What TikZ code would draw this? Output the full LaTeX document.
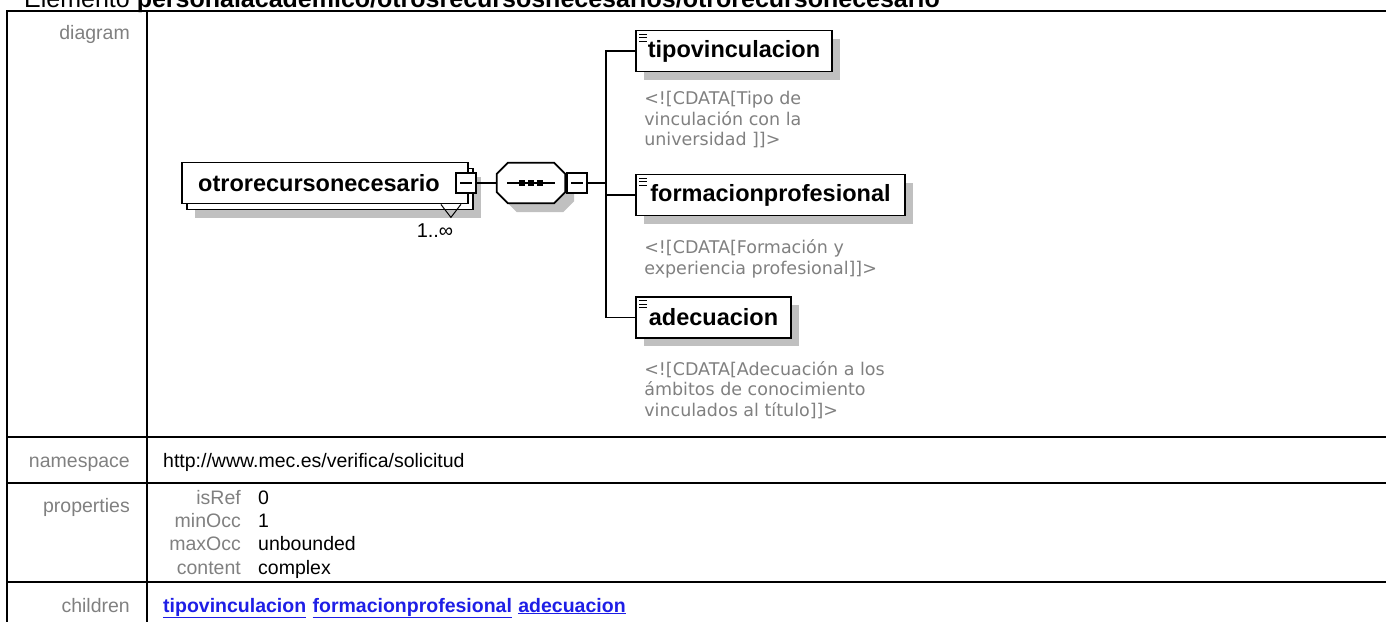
\documentclass[tikz,border=0pt]{standalone}
\usepackage{fontspec}
\setmainfont{Liberation Sans}
\newfontfamily\annfont{DejaVu Sans}
\usepackage{xcolor}
\definecolor{cLabel}{HTML}{808080}
\definecolor{cShadow}{HTML}{C0C0C0}
\definecolor{cLink}{HTML}{1E1EE6}
\usetikzlibrary{positioning,shadows,backgrounds}
\tikzset{
  tbl-line/.style={line width=2pt,draw=black},
  row-label/.style={anchor=base east,inner sep=0pt,text=cLabel,font=\fontsize{19.5}{23}\selectfont},
  row-value/.style={anchor=base west,inner sep=0pt,font=\fontsize{19.5}{23}\selectfont},
  link/.style={row-value,text=cLink,font=\fontsize{19.5}{23}\selectfont\bfseries},
  elem-box/.style={draw=black,line width=1.8pt,fill=white,minimum height=41pt,inner sep=0pt,
    font=\fontsize{23.5}{26}\selectfont\bfseries},
  elem-child/.style={elem-box,
    drop shadow={shadow xshift=8pt,shadow yshift=-8pt,fill=cShadow,opacity=1},
    path picture={\foreach \k in {0,1,2}
      \draw[line width=1pt] ([xshift=3pt,yshift={-3.5pt-3.5pt*\k}]path picture bounding box.north west) -- ++(8pt,0pt);}},
  elem-multi/.style={elem-box,
    drop shadow={shadow xshift=13pt,shadow yshift=-14pt,fill=cShadow,opacity=1},
    copy shadow={shadow xshift=5pt,shadow yshift=-6pt,draw=black,fill=white,line width=1.8pt}},
  minus-box/.style={draw=black,line width=1.4pt,fill=white,minimum size=20pt,inner sep=0pt,
    path picture={\draw[line width=1.4pt] ([xshift=-6pt]path picture bounding box.center)
      -- ([xshift=6pt]path picture bounding box.center);}},
  seq-box/.style={minimum width=68pt,minimum height=40pt,inner sep=0pt,
    path picture={\draw[line width=1.4pt] ([xshift=-24pt]path picture bounding box.center)
      -- ([xshift=24pt]path picture bounding box.center);
      \foreach \dx in {-9,0,9}
        \fill ([xshift=\dx pt]path picture bounding box.center) +(-2.7,-2.7) rectangle +(2.7,2.7);}},
  seq-outline/.style={draw=black,line width=1.8pt,fill=white,
    drop shadow={shadow xshift=9pt,shadow yshift=-9pt,fill=cShadow,opacity=1}},
  annot/.style={inner sep=0pt,align=left,text=cLabel,font=\annfont\fontsize{17.5}{20.5}\selectfont},
  occ/.style={inner sep=0pt,font=\fontsize{20}{22}\selectfont},
  conn/.style={line width=1.6pt,draw=black},
}
\begin{document}
\begin{tikzpicture}[x=1pt,y=-1pt]
  \useasboundingbox (0,0) rectangle (1386,621);
  \clip (0,0) rectangle (1386,621);
  % page heading, cut at the top
  \node[anchor=base west,inner sep=0pt,font=\fontsize{25}{28}\selectfont] (title) at (24,7)
    {Elemento \textbf{personalacademico/otrosrecursosnecesarios/otrorecursonecesario}};
  % table grid
  \draw[tbl-line] (7,630) -- (7,11) -- (1400,11);
  \draw[tbl-line] (147,11) -- (147,630);
  \foreach \ry in {437,483,582}
    \draw[tbl-line] (7,\ry) -- (1400,\ry);
  % row labels
  \node[row-label] (lbl-diagram)  at (130,39)  {diagram};
  \node[row-label] (lbl-ns)       at (130,467) {namespace};
  \node[row-label] (lbl-props)    at (130,512) {properties};
  \node[row-label] (lbl-children) at (130,612) {children};
  \node[row-value] (ns) at (163,467) {http://www.mec.es/verifica/solicitud};
  \node[row-label] (p-isref)   at (241,504) {isRef};
  \node[row-label] (p-minocc)  at (241,527) {minOcc};
  \node[row-label] (p-maxocc)  at (241,550) {maxOcc};
  \node[row-label] (p-content) at (241,574) {content};
  \node[row-value] (v-isref)   at (258,504) {0};
  \node[row-value] (v-minocc)  at (258,527) {1};
  \node[row-value] (v-maxocc)  at (258,550) {unbounded};
  \node[row-value] (v-content) at (258,574) {complex};
  \node[link] (lnk-tv) at (163,612) {\underline{tipovinculacion}};
  \node[link,right=6pt of lnk-tv.base east,anchor=base west] (lnk-fp) {\underline{formacionprofesional}};
  \node[link,right=6pt of lnk-fp.base east,anchor=base west] (lnk-ad) {\underline{adecuacion}};
  % diagram
  \node[elem-multi,minimum width=286pt] (elem) at (325,183) {otrorecursonecesario\hspace*{12pt}};
  \node[minus-box] (elem-minus) at (466,183) {};
  \draw[line width=1pt] ([xshift=-28pt]elem.south east) -- ([xshift=-18pt,yshift=-13pt]elem.south east)
    -- ([xshift=-8pt]elem.south east);
  \node[occ] (elem-occ) at (435,231) {1..∞};
  \node[seq-box] (seq) at (531,183) {};
  \begin{scope}[on background layer]
    \path[seq-outline] ([xshift=11pt]seq.north west) -- ([xshift=-11pt]seq.north east)
      -- ([yshift=-11pt]seq.north east) -- ([yshift=11pt]seq.south east)
      -- ([xshift=-11pt]seq.south east) -- ([xshift=11pt]seq.south west)
      -- ([yshift=11pt]seq.south west) -- ([yshift=-11pt]seq.north west) -- cycle;
  \end{scope}
  \node[minus-box] (seq-minus) at (577,183) {};
  \coordinate (spine) at (606,183);
  \node[elem-child,minimum width=196pt] (tv) at (734,51)    {tipovinculacion};
  \node[elem-child,minimum width=269pt] (fp) at (770.5,195) {formacionprofesional};
  \node[elem-child,minimum width=155pt] (ad) at (713.5,317.5) {adecuacion};
  \node[annot,below=19pt of tv.south west,anchor=north west,xshift=9pt] (tv-note)
    {<![CDATA[Tipo de\\vinculación con la\\universidad ]]>};
  \node[annot,below=23pt of fp.south west,anchor=north west,xshift=9pt] (fp-note)
    {<![CDATA[Formación y\\experiencia profesional]]>};
  \node[annot,below=22pt of ad.south west,anchor=north west,xshift=9pt] (ad-note)
    {<![CDATA[Adecuación a los\\ámbitos de conocimiento\\vinculados al título]]>};
  \draw[conn] (elem-minus) -- (seq);
  \draw[conn] (seq-minus) -- (spine);
  \draw[conn] (tv.west) -| (spine) |- (ad.west);
  \draw[conn] (fp.west) -- (fp.west -| spine);
\end{tikzpicture}
\end{document}
